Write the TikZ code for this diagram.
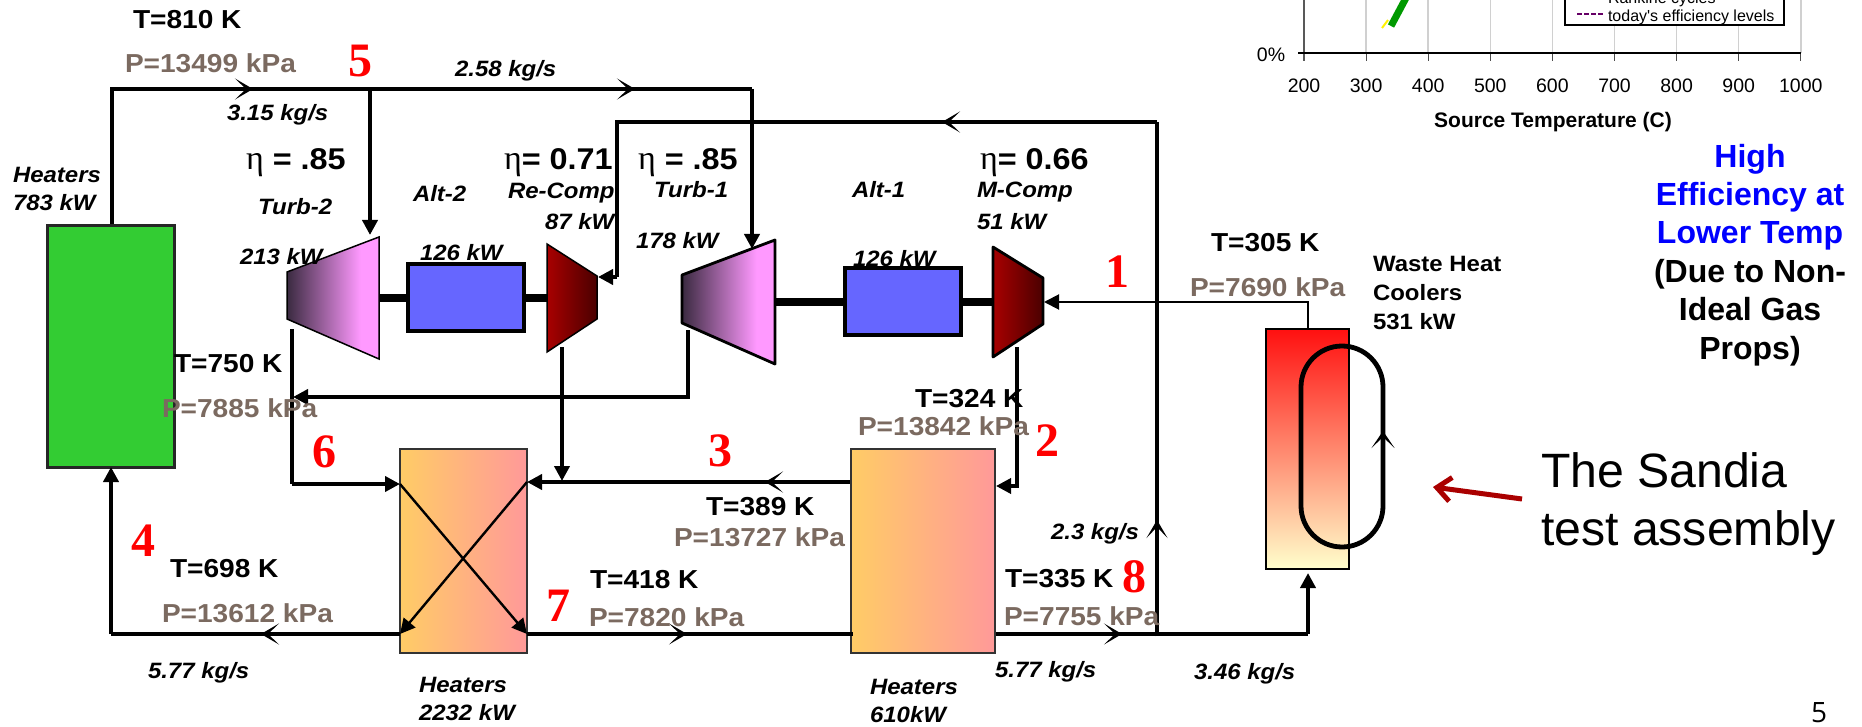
\documentclass[tikz,border=0pt]{standalone}
\usepackage{fontspec}
\usetikzlibrary{arrows.meta}
\setmainfont[FakeStretch=1.08]{Liberation Sans}
\newfontfamily\plainf{Liberation Sans}
\newfontfamily\timesf{Liberation Serif}
\newfontfamily\pagef{Open Sans}
\definecolor{pbrown}{HTML}{7B6A60}
\definecolor{gbox}{HTML}{33CC33}
\definecolor{tdark}{HTML}{3A2A40}
\definecolor{tpink}{HTML}{FF99FF}
\definecolor{cred}{HTML}{A80000}
\definecolor{cdark}{HTML}{4A0000}
\definecolor{hyel}{HTML}{FFCC66}
\definecolor{hpink}{HTML}{FF9999}
\definecolor{altblue}{HTML}{6666FF}
\definecolor{cooltop}{HTML}{FF1010}
\definecolor{coolbot}{HTML}{FFFFCC}
\definecolor{callout}{HTML}{AA0000}
\definecolor{gridg}{HTML}{D0D0D0}
\pgfdeclarehorizontalshading{turbsh}{100bp}{color(0bp)=(tdark); color(25bp)=(tdark); color(65bp)=(tpink); color(100bp)=(tpink)}
\newcommand{\etag}{{\fontsize{34}{34}\timesf\mdseries η}}
\tikzset{
  flow/.style={line width=4.2pt,line join=miter},
  thinflow/.style={line width=2pt},
  xflow/.style={line width=2.4pt},
  solidtip/.style={-{Triangle[length=15pt,width=15pt]}},
  midtip/.style={-{Stealth[length=18pt,width=21pt,inset=11pt]}},
  txt/.style={anchor=base west,inner sep=0pt,outer sep=0pt},
  tlab/.style={txt,font=\fontsize{26}{30}\selectfont\bfseries,yshift=-9pt},
  plab/.style={txt,text=pbrown,font=\fontsize{26}{30}\selectfont\bfseries,yshift=-9pt},
  ilab/.style={txt,align=left,font=\fontsize{22.2}{28}\selectfont\bfseries\itshape,yshift=-8pt},
  rednum/.style={txt,text=red,font=\fontsize{48}{50}\timesf\bfseries,yshift=-16.5pt},
  etalab/.style={txt,font=\fontsize{30}{32}\selectfont\bfseries,yshift=-11pt},
  boxn/.style={inner sep=0pt,outer sep=0pt,rectangle},
  heater/.style={boxn,draw=black!80,line width=2pt,left color=hyel,right color=hpink},
  alt/.style={boxn,draw=black,line width=3.5pt,fill=altblue},
  axlab/.style={inner sep=0pt,font=\fontsize{19.5}{22}\plainf},
}
\begin{document}
\begin{tikzpicture}[x=1pt,y=-1pt]
\useasboundingbox (0,0) rectangle (1862,727);
\begin{scope}
\clip (0,0) rectangle (1862,727);
% chart fragment
\foreach \xx in {1366.1,1428.2,1490.3,1552.4,1614.5,1676.6,1738.7,1800.8}
  \draw[gridg,line width=1.5pt] (\xx,0) -- (\xx,53);
\draw[black!65,line width=1.5pt] (1304,0) -- (1304,61);
\foreach \xx in {1366.1,1428.2,1490.3,1552.4,1614.5,1676.6,1738.7,1800.8}
  \draw[black!70,line width=1.2pt] (\xx,53) -- (\xx,61);
\draw[black,line width=1.5pt] (1298,53) -- (1801,53);
\draw[yellow,line width=2pt] (1382,28) -- (1388,20);
\draw[green!60!black,line width=7pt] (1391,26) -- (1407,-4);
\node[boxn,draw=black,fill=white,line width=1.2pt,minimum width=219pt,minimum height=40pt] (legend) at (1674.5,5) {};
\node[txt,font=\fontsize{16}{18}\plainf] (legA) at (1608,4) {Rankine cycles};
\node[txt,font=\fontsize{16}{18}\plainf] (legB) at (1608,22) {today's efficiency levels};
\draw[violet!80!black,line width=1.6pt,dash pattern=on 5pt off 2pt] (1577,14) -- (1603,14);
\node[axlab] (pct) at (1271,55) {0\%};
\foreach \v/\xx in {200/1304,300/1366.1,400/1428.2,500/1490.3,600/1552.4,700/1614.5,800/1676.6,900/1738.7,1000/1800.8}
  \node[axlab] (tick\v) at (\xx,86) {\v};
\node[inner sep=0pt,font=\fontsize{21}{24}\plainf\bfseries] (srcT) at (1553,122.5) {Source Temperature (C)};

% equipment
\coordinate (s2a) at (379,297.5);
\coordinate (s2b) at (547,297.5);
\coordinate (s1a) at (775,301.5);
\coordinate (s1b) at (993,301.5);
\draw[line width=8pt] (s2a) -- (s2b);
\draw[line width=8pt] (s1a) -- (s1b);
\node[boxn,draw=black!85,line width=3pt,fill=gbox,minimum width=127pt,minimum height=241pt] (green) at (110.5,346.5) {};
\node[alt,minimum width=116pt,minimum height=67pt] (alt2) at (466,297.5) {};
\node[alt,minimum width=116pt,minimum height=67pt] (alt1) at (903,301.5) {};
\shade[shading=turbsh,draw=black,line width=1.5pt,line join=miter] (287,272) -- (379,237) -- (379,359) -- (287,319) -- cycle;
\shade[shading=turbsh,draw=black,line width=2.8pt,line join=round] (682,275) -- (775,240) -- (775,364) -- (682,323) -- cycle;
\shade[left color=cred,right color=cdark,draw=black,line width=1.5pt,line join=miter] (547,244) -- (597,276) -- (597,319) -- (547,352) -- cycle;
\shade[left color=cred,right color=cdark,draw=black,line width=2.8pt,line join=round] (993,247) -- (1043,278) -- (1043,324) -- (993,357) -- cycle;

% junctions
\coordinate (gt) at (112,224);
\coordinate (tl) at (112,89);
\coordinate (m1) at (253,89);
\coordinate (j5) at (370,89);
\coordinate (m2) at (635,89);
\coordinate (tr) at (752,89);
\coordinate (t2in) at (370,235);
\coordinate (t1in) at (752,249);
\coordinate (t2out) at (292,329);
\coordinate (t2low) at (292,484);
\coordinate (h1nw) at (400,484);
\coordinate (t1out) at (688,330);
\coordinate (t1low) at (688,397);
\coordinate (t2join) at (293,397);
\coordinate (rcout) at (562,347);
\coordinate (rcdown) at (562,481);
\coordinate (h2l) at (851,482);
\coordinate (m3) at (765,482);
\coordinate (h1ne) at (527,482);
\coordinate (mcout) at (1017,347);
\coordinate (mcl) at (1017,486);
\coordinate (h2r) at (996,486);
\coordinate (h1sw) at (400,634);
\coordinate (h1se) at (527,634);
\coordinate (bl) at (111,634);
\coordinate (m4) at (261,634);
\coordinate (gb) at (111,467);
\coordinate (h2w) at (853,634);
\coordinate (m5) at (687,634);
\coordinate (h2e) at (993,634);
\coordinate (m6) at (1122,634);
\coordinate (j8) at (1157,636);
\coordinate (br) at (1308,634);
\coordinate (coolb) at (1308,573);
\coordinate (m7) at (1157,520);
\coordinate (rt) at (1157,122);
\coordinate (m8) at (942,122);
\coordinate (lt) at (617,122);
\coordinate (rcin) at (598,277);
\coordinate (lw) at (617,277);
\coordinate (coolt) at (1308,329);
\coordinate (coolc) at (1308,302);
\coordinate (mcin) at (1044,302);

% connectors
\draw[flow] (gt) -- (tl) -- (tr);
\draw[flow,midtip] (tl) -- (m1);
\draw[flow,midtip] (j5) -- (m2);
\draw[flow,solidtip] (j5) -- (t2in);
\draw[flow,solidtip] (tr) -- (t1in);
\draw[flow] (t2out) -- (t2low);
\draw[flow,solidtip] (t2low) -- (h1nw);
\draw[flow,solidtip] (t1out) -- (t1low) -- (t2join);
\draw[flow,solidtip] (rcout) -- (rcdown);
\draw[flow,solidtip] (h2l) -- (h1ne);
\draw[flow,midtip] (h2l) -- (m3);
\draw[line width=3.5pt,solidtip] (mcout) -- (mcl) -- (h2r);
\draw[flow] (rt) -- (lt) -- (lw);
\draw[flow,solidtip] (lw) -- (rcin);
\draw[flow,midtip] (rt) -- (m8);
\draw[flow] (j8) -- (rt);
\draw[flow,midtip] (j8) -- (m7);
\draw[flow] (h2e) -- (br);
\draw[flow,midtip] (h2e) -- (m6);
\draw[flow,solidtip] (br) -- (coolb);
\draw[thinflow,solidtip] (coolt) -- (coolc) -- (mcin);

% heaters and cooler (behind their crossing lines)
\node[heater,minimum width=127pt,minimum height=204pt] (h1) at (463.5,551) {};
\node[heater,minimum width=144pt,minimum height=204pt] (h2) at (923,551) {};
\draw[flow] (h1se) -- (h2w);
\draw[flow,midtip] (h1se) -- (m5);
\draw[flow] (h1sw) -- (bl);
\draw[flow,solidtip] (bl) -- (gb);
\draw[flow,midtip] (h1sw) -- (m4);
\draw[xflow,solidtip] (h1nw) -- (h1se);
\draw[xflow,solidtip] (h1ne) -- (h1sw);
\shade[top color=cooltop,bottom color=coolbot,draw=black,line width=2.5pt] (1266,329) rectangle (1349,569);
\draw[line width=4.8pt,rounded corners=41pt] (1301,346) rectangle (1383,547);
\coordinate (lpa) at (1383,452);
\coordinate (lpb) at (1383,431);
\draw[line width=4.8pt,-{Stealth[length=17pt,width=23pt,inset=11pt]}] (lpa) -- (lpb);

% callout
\coordinate (ca) at (1522,499);
\coordinate (cb) at (1433,487);
\draw[callout,line width=5pt,-{Straight Barb[length=14pt,width=24pt]}] (ca) -- (cb);

% labels
\node[tlab] (a1) at (133,20) {T=810 K};
\node[plab] (a2) at (125,64) {P=13499 kPa};
\node[rednum] (n5) at (348,60) {5};
\node[ilab] (a3) at (455,69) {2.58 kg/s};
\node[ilab] (a4) at (227,113) {3.15 kg/s};
\node[etalab] (e1) at (246,159) {\etag{} = .85};
\node[etalab] (e2) at (504,159) {\etag= 0.71};
\node[etalab] (e3) at (638,159) {\etag{} = .85};
\node[etalab] (e4) at (980,159) {\etag= 0.66};
\node[ilab] (a5) at (13,203) {Heaters\\783 kW};
\node[ilab] (a6) at (258,207) {Turb-2};
\node[ilab] (a7) at (413,194) {Alt-2};
\node[ilab] (a8) at (508,191) {Re-Comp};
\node[ilab] (a9) at (545,222) {87 kW};
\node[ilab] (a10) at (654,190) {Turb-1};
\node[ilab] (a11) at (852,190) {Alt-1};
\node[ilab] (a12) at (977,190) {M-Comp};
\node[ilab] (a13) at (977,222) {51 kW};
\node[ilab] (a14) at (240,257) {213 kW};
\node[ilab] (a15) at (420,253) {126 kW};
\node[ilab] (a16) at (636,241) {178 kW};
\node[ilab] (a17) at (853,258) {126 kW};
\node[rednum] (n1) at (1105,271) {1};
\node[tlab] (a18) at (1211,243) {T=305 K};
\node[plab] (a19) at (1190,287) {P=7690 kPa};
\node[txt,align=left,font=\fontsize{22.2}{29}\selectfont\bfseries,yshift=-8pt] (a20) at (1373,321) {Waste Heat\\Coolers\\531 kW};
\node[tlab] (a21) at (174,363) {T=750 K};
\node[plab] (a22) at (162,408) {P=7885 kPa};
\node[tlab] (a23) at (915,398) {T=324 K};
\node[plab] (a24) at (858,426) {P=13842 kPa};
\node[rednum] (n2) at (1035,440) {2};
\node[rednum] (n3) at (708,450) {3};
\node[rednum] (n6) at (312,451) {6};
\node[tlab] (a25) at (706,506) {T=389 K};
\node[plab] (a26) at (674,537) {P=13727 kPa};
\node[ilab] (a27) at (1051,531) {2.3 kg/s};
\node[rednum] (n4) at (131,540) {4};
\node[tlab] (a28) at (170,568) {T=698 K};
\node[plab] (a29) at (162,613) {P=13612 kPa};
\node[rednum] (n7) at (546,605) {7};
\node[tlab] (a30) at (590,579) {T=418 K};
\node[plab] (a31) at (589,617) {P=7820 kPa};
\node[tlab] (a32) at (1005,578) {T=335 K};
\node[rednum] (n8) at (1122,576) {8};
\node[plab] (a33) at (1004,616) {P=7755 kPa};
\node[ilab] (a34) at (148,670) {5.77 kg/s};
\node[ilab] (a35) at (995,669) {5.77 kg/s};
\node[ilab] (a36) at (1194,671) {3.46 kg/s};
\node[ilab] (a37) at (419,712) {Heaters\\2232 kW};
\node[ilab] (a38) at (870,714) {Heaters\\610kW};
\node[anchor=base,inner sep=0pt,align=center,font=\fontsize{32}{38.4}\plainf\bfseries,yshift=-11pt] (a39) at (1750,348)
  {\textcolor{blue}{High}\\\textcolor{blue}{Efficiency at}\\\textcolor{blue}{Lower Temp}\\(Due to Non-\\Ideal Gas\\Props)};
\node[txt,align=left,font=\fontsize{48.2}{58}\plainf,yshift=-17pt] (a40) at (1541,528) {The Sandia\\test assembly};
\node[txt,font=\fontsize{28}{30}\pagef,yshift=-10pt] (a41) at (1811,712) {5};
\end{scope}
\end{tikzpicture}
\end{document}
